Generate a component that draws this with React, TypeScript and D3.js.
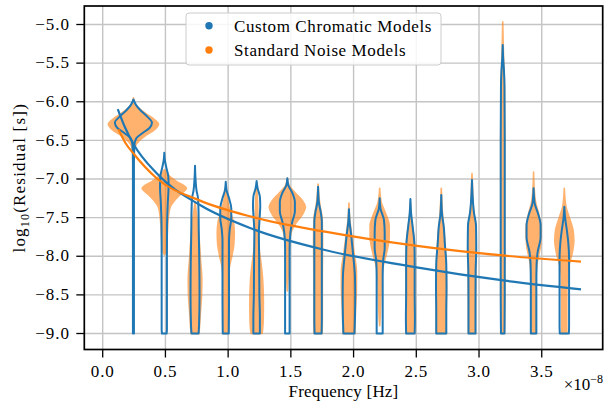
import React from "react";
import * as d3 from "d3";

// ---- data (x in units of 1e-8 Hz, y in log10 residual [s]) ----
const FREQS = [0.245, 0.491, 0.736, 0.981, 1.227, 1.472, 1.717, 1.963, 2.208, 2.453, 2.699, 2.944, 3.189, 3.435, 3.68];

const X_TICKS = [0, 0.5, 1, 1.5, 2, 2.5, 3, 3.5];
const Y_TICKS = [-9, -8.5, -8, -7.5, -7, -6.5, -6, -5.5, -5];

// blue curve (Custom Chromatic Models)
const BLUE_CURVE_F = [0.12, 0.18, 0.25, 0.43, 0.776, 1.2, 1.772, 2.49, 3.207, 3.813];
const BLUE_CURVE_V = [-6.094, -6.34, -6.56, -6.926, -7.337, -7.65, -7.919, -8.14, -8.316, -8.428];
// orange curve (Standard Noise Models)
const ORANGE_CURVE_F = [0.125, 0.18, 0.25, 0.43, 0.776, 1.2, 1.772, 2.49, 3.207, 3.813];
const ORANGE_CURVE_V = [-6.357, -6.53, -6.68, -6.99, -7.28, -7.494, -7.682, -7.863, -7.993, -8.07];

// violin profiles: [value, half-width in 1e-8 Hz]
const BLUE_VIOLINS: [number, number][][] = [
  [[-5.97,0],[-6.04,0.020],[-6.11,0.056],[-6.19,0.108],[-6.27,0.148],[-6.34,0.128],[-6.41,0.068],[-6.47,0.024],[-6.56,0.008],[-6.8,0.004],[-9.0,0.004]],
  [[-6.66,0],[-6.75,0.004],[-6.85,0.016],[-6.97,0.032],[-7.1,0.034],[-7.3,0.028],[-7.6,0.022],[-8.0,0.021],[-8.5,0.021],[-8.95,0.021],[-9.0,0.018]],
  [[-6.83,0],[-7.0,0.004],[-7.15,0.012],[-7.25,0.024],[-7.42,0.028],[-7.7,0.030],[-8.07,0.034],[-8.5,0.036],[-8.9,0.032],[-9.0,0.028]],
  [[-7.035,0],[-7.14,0.006],[-7.26,0.028],[-7.38,0.044],[-7.5,0.044],[-7.65,0.032],[-7.8,0.026],[-8.2,0.026],[-8.6,0.026],[-9.0,0.024]],
  [[-7.026,0],[-7.12,0.008],[-7.23,0.026],[-7.35,0.029],[-7.5,0.024],[-7.7,0.018],[-8.0,0.020],[-8.5,0.022],[-8.8,0.026],[-9.0,0.026]],
  [[-6.99,0],[-7.08,0.008],[-7.18,0.040],[-7.3,0.060],[-7.42,0.060],[-7.55,0.040],[-7.7,0.024],[-7.9,0.018],[-8.5,0.018],[-9.0,0.018]],
  [[-7.1,0],[-7.3,0.006],[-7.42,0.020],[-7.55,0.030],[-7.8,0.030],[-8.3,0.030],[-8.8,0.030],[-9.0,0.028]],
  [[-7.39,0],[-7.57,0.006],[-7.7,0.016],[-7.96,0.032],[-8.26,0.048],[-8.5,0.050],[-8.8,0.048],[-9.0,0.044]],
  [[-7.25,0],[-7.38,0.006],[-7.53,0.034],[-7.7,0.040],[-7.9,0.040],[-8.05,0.028],[-8.26,0.024],[-8.6,0.024],[-9.0,0.024]],
  [[-7.26,0],[-7.45,0.006],[-7.62,0.018],[-7.85,0.032],[-8.1,0.034],[-8.5,0.034],[-8.8,0.036],[-9.0,0.034]],
  [[-7.207,0],[-7.45,0.006],[-7.62,0.020],[-7.83,0.028],[-8.1,0.040],[-8.4,0.042],[-8.7,0.040],[-9.0,0.040]],
  [[-7.013,0],[-7.25,0.006],[-7.44,0.016],[-7.6,0.032],[-7.9,0.034],[-8.2,0.029],[-8.6,0.028],[-9.0,0.028]],
  [[-5.265,0],[-5.45,0.004],[-5.6,0.010],[-5.8,0.014],[-6.5,0.016],[-7.5,0.016],[-8.5,0.016],[-9.0,0.014]],
  [[-7.12,0],[-7.31,0.008],[-7.45,0.036],[-7.6,0.056],[-7.75,0.056],[-7.95,0.032],[-8.1,0.024],[-8.4,0.022],[-8.8,0.022],[-9.0,0.022]],
  [[-7.36,0],[-7.5,0.006],[-7.66,0.020],[-7.83,0.032],[-8.05,0.038],[-8.5,0.038],[-8.9,0.038],[-9.0,0.036]],
];

const ORANGE_VIOLINS: [number, number][][] = [
  [[-5.95,0],[-6.02,0.008],[-6.08,0.040],[-6.15,0.096],[-6.22,0.160],[-6.29,0.200],[-6.36,0.168],[-6.43,0.104],[-6.5,0.048],[-6.57,0.016],[-6.65,0.004],[-6.75,0]],
  [[-6.88,0],[-6.95,0.032],[-7.03,0.096],[-7.12,0.176],[-7.2,0.128],[-7.28,0.080],[-7.36,0.048],[-7.5,0.032],[-7.7,0.024],[-7.9,0.016],[-7.98,0]],
  [[-7.3,0],[-7.45,0.012],[-7.6,0.024],[-7.85,0.036],[-8.05,0.044],[-8.3,0.054],[-8.5,0.052],[-8.7,0.044],[-8.9,0.036],[-9.0,0.032]],
  [[-7.1,0],[-7.25,0.012],[-7.4,0.032],[-7.55,0.060],[-7.7,0.068],[-7.85,0.064],[-8.0,0.048],[-8.15,0.028],[-8.4,0.020],[-8.8,0.020],[-9.0,0.020]],
  [[-7.1,0],[-7.3,0.008],[-7.6,0.012],[-7.9,0.020],[-8.1,0.036],[-8.3,0.048],[-8.6,0.054],[-8.85,0.052],[-9.0,0.044]],
  [[-6.99,0],[-7.08,0.012],[-7.18,0.064],[-7.28,0.120],[-7.36,0.144],[-7.46,0.120],[-7.58,0.064],[-7.7,0.028],[-7.9,0.012],[-8.2,0.008],[-8.45,0]],
  [[-7.065,0],[-7.2,0.006],[-7.35,0.016],[-7.5,0.032],[-7.8,0.036],[-8.3,0.034],[-8.8,0.034],[-9.0,0.032]],
  [[-7.31,0],[-7.5,0.006],[-7.7,0.020],[-7.95,0.040],[-8.2,0.060],[-8.4,0.060],[-8.7,0.052],[-9.0,0.048]],
  [[-7.12,0],[-7.3,0.012],[-7.45,0.048],[-7.6,0.076],[-7.75,0.076],[-7.95,0.056],[-8.1,0.032],[-8.25,0.016],[-8.5,0.010],[-8.8,0.004],[-8.9,0]],
  [[-7.3,0],[-7.5,0.008],[-7.7,0.024],[-7.9,0.034],[-8.3,0.036],[-8.7,0.036],[-9.0,0.034]],
  [[-7.12,0],[-7.3,0.005],[-7.5,0.012],[-7.7,0.024],[-8.0,0.036],[-8.4,0.042],[-8.8,0.040],[-9.0,0.040]],
  [[-6.93,0],[-7.15,0.005],[-7.4,0.012],[-7.6,0.030],[-7.9,0.034],[-8.3,0.030],[-8.7,0.029],[-9.0,0.028]],
  [[-4.964,0],[-5.2,0.003],[-5.5,0.008],[-5.8,0.014],[-6.5,0.016],[-8.5,0.016],[-9.0,0.014]],
  [[-6.91,0],[-7.1,0.004],[-7.3,0.016],[-7.45,0.040],[-7.65,0.060],[-7.85,0.056],[-8.05,0.032],[-8.25,0.020],[-8.6,0.018],[-9.0,0.018]],
  [[-7.12,0],[-7.35,0.012],[-7.5,0.040],[-7.65,0.068],[-7.8,0.076],[-7.95,0.064],[-8.1,0.040],[-8.25,0.024],[-8.6,0.020],[-9.0,0.020]],
];

const LEGEND = ["Custom Chromatic Models", "Standard Noise Models"];
const BLUE = "#1f77b4";
const ORANGE = "#ff7f0e";

const W = 615;
const H = 404;
const PL = 84.3, PR = 602.7, PT = 6, PB = 349.5;
const FONT = "'Liberation Serif', 'Times New Roman', serif";

export default function App() {
  const x = d3.scaleLinear().domain([-0.1467, 3.986]).range([PL, PR]);
  const y = d3.scaleLinear().domain([-9.207, -4.7605]).range([PB, PT]);

  const violinPath = (c: number, prof: [number, number][]) =>
    d3
      .area<[number, number]>()
      .y((d) => y(d[0]))
      .x0((d) => x(c - d[1]))
      .x1((d) => x(c + d[1]))
      .curve(d3.curveMonotoneY)(prof) || "";

  const line = d3
    .line<[number, number]>()
    .x((d) => x(d[0]))
    .y((d) => y(d[1]))
    .curve(d3.curveMonotoneX);

  const blueCurve = line(BLUE_CURVE_F.map((f, i) => [f, BLUE_CURVE_V[i]] as [number, number])) || "";
  const orangeCurve = line(ORANGE_CURVE_F.map((f, i) => [f, ORANGE_CURVE_V[i]] as [number, number])) || "";

  const fmt = (v: number) => (v < 0 ? "\u2212" : "") + Math.abs(v).toFixed(1);

  return (
    <svg
      width={W}
      height={H}
      style={{ position: "absolute", left: 0, top: 0, background: "#fff" }}
      fontFamily={FONT}
    >
      <rect x={0} y={0} width={W} height={H} fill="#fff" />
      {/* grid */}
      <g stroke="#c4c4c4" strokeWidth={1.4}>
        {X_TICKS.map((t) => (
          <line key={"gx" + t} x1={x(t)} x2={x(t)} y1={PT} y2={PB} />
        ))}
        {Y_TICKS.map((t) => (
          <line key={"gy" + t} x1={PL} x2={PR} y1={y(t)} y2={y(t)} />
        ))}
      </g>
      {/* orange violins */}
      <g opacity={0.6}>
        {ORANGE_VIOLINS.map((p, i) => (
          <path key={"o" + i} d={violinPath(FREQS[i], p)} fill={ORANGE} stroke={ORANGE} strokeWidth={1.6} strokeLinejoin="round" />
        ))}
      </g>
      {/* blue violins */}
      <g>
        {BLUE_VIOLINS.map((p, i) => (
          <path key={"b" + i} d={violinPath(FREQS[i], p)} fill="none" stroke={BLUE} strokeWidth={2} strokeLinejoin="round" />
        ))}
      </g>
      {/* curves */}
      <path d={blueCurve} fill="none" stroke={BLUE} strokeWidth={2.2} />
      <path d={orangeCurve} fill="none" stroke={ORANGE} strokeWidth={2.2} />
      {/* spines */}
      <rect x={PL} y={PT} width={PR - PL} height={PB - PT} fill="none" stroke="#000" strokeWidth={1.7} />
      {/* x ticks */}
      {X_TICKS.map((t) => (
        <g key={"xt" + t}>
          <line x1={x(t)} x2={x(t)} y1={PB} y2={PB + 8} stroke="#000" strokeWidth={1.3} />
          <text x={x(t)} y={377} textAnchor="middle" fontSize={17} letterSpacing={0.8}>
            {t.toFixed(1)}
          </text>
        </g>
      ))}
      {/* y ticks */}
      {Y_TICKS.map((t) => (
        <g key={"yt" + t}>
          <line x1={PL - 8} x2={PL} y1={y(t)} y2={y(t)} stroke="#000" strokeWidth={1.3} />
          <text x={70} y={y(t) + 5.2} textAnchor="end" fontSize={17} letterSpacing={1}>
            {fmt(t)}
          </text>
        </g>
      ))}
      {/* axis labels */}
      <text x={(PL + PR) / 2} y={397} textAnchor="middle" fontSize={17} letterSpacing={0.2}>
        Frequency [Hz]
      </text>
      <text x={603} y={390} textAnchor="end" fontSize={17}>
        ×10
        <tspan dy={-7} fontSize={12}>
          −8
        </tspan>
      </text>
      <text transform={`translate(25, ${(PT + PB) / 2}) rotate(-90)`} textAnchor="middle" fontSize={17} letterSpacing={1.2}>
        log
        <tspan dy={4} fontSize={12}>
          10
        </tspan>
        <tspan dy={-4}>(Residual [s])</tspan>
      </text>
      {/* legend */}
      <rect x={186} y={13} width={255} height={52} rx={3} fill="#fff" fillOpacity={0.85} stroke="#cccccc" strokeWidth={1} />
      <circle cx={209} cy={25.7} r={3.7} fill={BLUE} />
      <circle cx={209} cy={50} r={3.7} fill={ORANGE} />
      <text x={234} y={31.5} fontSize={17} letterSpacing={0.6}>
        {LEGEND[0]}
      </text>
      <text x={234} y={55.8} fontSize={17} letterSpacing={0.6}>
        {LEGEND[1]}
      </text>
    </svg>
  );
}
